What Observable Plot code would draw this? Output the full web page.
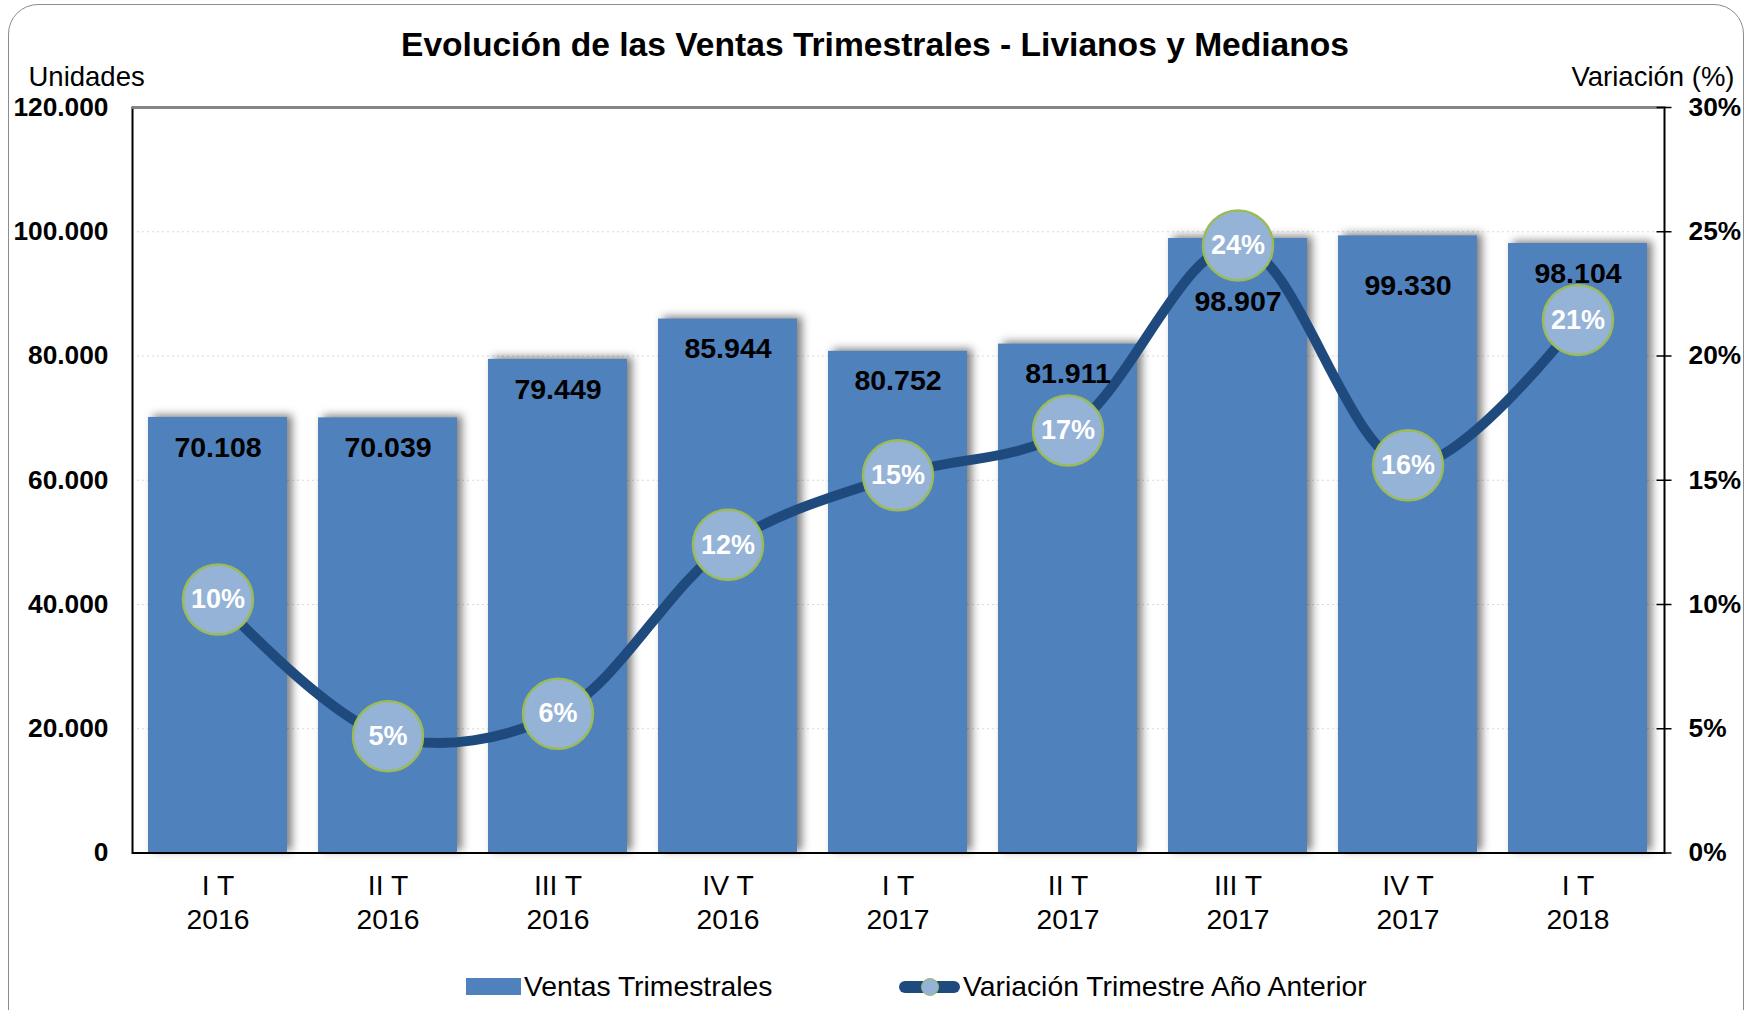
<!DOCTYPE html>
<html>
<head>
<meta charset="utf-8">
<script src="https://cdn.jsdelivr.net/npm/d3@7"></script>
<script src="https://cdn.jsdelivr.net/npm/@observablehq/plot@0.6"></script>
<style>
  body { margin: 0; background: #fff; font-family: "Liberation Sans", Arial, sans-serif; }
  #wrap { position: relative; width: 1747px; height: 1010px; overflow: hidden; }
  #frame { position: absolute; left: 8px; top: 4px; width: 1736px; height: 1040px; border: 1.5px solid #8c8c8c; border-radius: 30px; box-sizing: border-box; }
  #title { position: absolute; left: 0; top: 25px; width: 1750px; text-align: center; font-weight: bold; font-size: 33.6px; line-height: 40px; color: #000; }
  #chart { position: absolute; left: 0; top: 60px; }
  .leg { position: absolute; font-size: 28.3px; line-height: 32px; color: #000; white-space: nowrap; }
</style>
</head>
<body>
<div id="wrap">
  <div id="frame"></div>
  <div id="title">Evolución de las Ventas Trimestrales - Livianos y Medianos</div>
  <div id="chart"></div>
  <div id="legend"></div>
</div>
<script>
// ---- data ----
const quarters = ["I T", "II T", "III T", "IV T", "I T", "II T", "III T", "IV T", "I T"];
const years = ["2016", "2016", "2016", "2016", "2017", "2017", "2017", "2017", "2018"];
const ventas = [70108, 70039, 79449, 85944, 80752, 81911, 98907, 99330, 98104];
const variacion = [10.2, 4.7, 5.6, 12.4, 15.2, 17.0, 24.45, 15.6, 21.45];
const yTicks = [0, 20000, 40000, 60000, 80000, 100000, 120000];
const pctTicks = [0, 5, 10, 15, 20, 25, 30];
const seriesNames = ["Ventas Trimestrales", "Variación Trimestre Año Anterior"];

// ---- build table ----
const keys = quarters.map((q, i) => q + " " + years[i]);
const data = keys.map((k, i) => ({ key: k, q: quarters[i], yr: years[i], ventas: ventas[i], pct: variacion[i] }));
const qOf = new Map(data.map(d => [d.key, d.q]));
const yOf = new Map(data.map(d => [d.key, d.yr]));
const K = yTicks[yTicks.length - 1] / pctTicks[pctTicks.length - 1]; // units per percent
const fmt = d3.formatLocale({ decimal: ",", thousands: ".", grouping: [3], currency: ["", ""] }).format(",d");

const FONT = '"Liberation Sans", Arial, sans-serif';
const W = 1747, H = 890, ML = 132, MR = 83, MT = 47, MB = 97.5;
const innerW = W - ML - MR;

const plot = Plot.plot({
  width: W, height: H,
  marginLeft: ML, marginRight: MR, marginTop: MT, marginBottom: MB,
  style: { fontFamily: FONT, background: "transparent", overflow: "visible", color: "#000" },
  x: { domain: keys, paddingInner: 0.18, paddingOuter: 0.09 },
  y: { domain: [0, 120000] },
  marks: [
    Plot.ruleY(yTicks.slice(1, -1), { stroke: "#d9d9d9", strokeDasharray: "2,3", strokeWidth: 1 }),
    Plot.barY(data, { x: "key", y: "ventas", fill: "#4F81BD" }),
    Plot.frame({ stroke: "#000", strokeWidth: 2 }),
    Plot.ruleY([120000], { stroke: "#868686", strokeWidth: 2.5 }),
    Plot.ruleY(yTicks, { stroke: "#000", strokeWidth: 1.5, insetLeft: innerW - 7.5, insetRight: -7.5 }),
    Plot.axisY({ ticks: yTicks, anchor: "left", tickSize: 0, tickPadding: 24, tickFormat: fmt, label: null, fontSize: 26.3, fontWeight: "bold" }),
    Plot.axisY({ ticks: yTicks, anchor: "right", tickSize: 0, tickPadding: 24, tickFormat: d => (d / K) + "%", label: null, fontSize: 26.3, fontWeight: "bold" }),
    Plot.axisX({ tickSize: 0, tickPadding: 22, tickFormat: d => qOf.get(d), label: null, fontSize: 28.3 }),
    Plot.axisX({ tickSize: 0, tickPadding: 56, tickFormat: d => yOf.get(d), label: null, fontSize: 28.3 }),
    Plot.line(data, { x: "key", y: d => d.pct * K, curve: "catmull-rom", stroke: "#1F4A7E", strokeWidth: 10 }),
    Plot.text(data, { filter: (d, i) => i !== 6 && i !== 7, x: "key", y: "ventas", text: d => fmt(d.ventas), dy: 30, fontSize: 28.5, fontWeight: "bold", fill: "#000" }),
    Plot.text(data, { filter: (d, i) => i === 6, x: "key", y: "ventas", text: d => fmt(d.ventas), dy: 63, fontSize: 28.5, fontWeight: "bold", fill: "#000" }),
    Plot.text(data, { filter: (d, i) => i === 7, x: "key", y: "ventas", text: d => fmt(d.ventas), dy: 50, fontSize: 28.5, fontWeight: "bold", fill: "#000" }),
    Plot.dot(data, { x: "key", y: d => d.pct * K, r: 35, fill: "#95B3D7", stroke: "#9BBB59", strokeWidth: 2.5 }),
    Plot.text(data, { x: "key", y: d => d.pct * K, text: d => Math.round(d.pct) + "%", fill: "#fff", fontSize: 27, fontWeight: "bold" }),
    Plot.text(["Unidades"], { frameAnchor: "top-left", dx: -104, dy: -30, lineAnchor: "middle", textAnchor: "start", fontSize: 27.5 }),
    Plot.text(["Variación (%)"], { frameAnchor: "top-right", dx: 70, dy: -30, lineAnchor: "middle", textAnchor: "end", fontSize: 27.5 })
  ]
});
d3.select(plot).selectAll('g[aria-label="bar"]').style("filter", "drop-shadow(5px -2px 4px rgba(0,0,0,0.5))");
document.getElementById("chart").appendChild(plot);

// ---- legend ----
const leg = document.getElementById("legend");
leg.innerHTML = `
  <div style="position:absolute;left:466px;top:978px;width:55px;height:17px;background:#4F81BD;"></div>
  <div class="leg" style="left:524px;top:970px;">${seriesNames[0]}</div>
  <div style="position:absolute;left:899px;top:980.5px;width:61px;height:12px;border-radius:6px;background:#1F4A7E;"></div>
  <div style="position:absolute;left:921px;top:977.5px;width:18px;height:18px;border-radius:50%;box-sizing:border-box;border:1.5px solid #9BBB59;background:#95B3D7;"></div>
  <div class="leg" style="left:963px;top:970px;">${seriesNames[1]}</div>`;
</script>
</body>
</html>
